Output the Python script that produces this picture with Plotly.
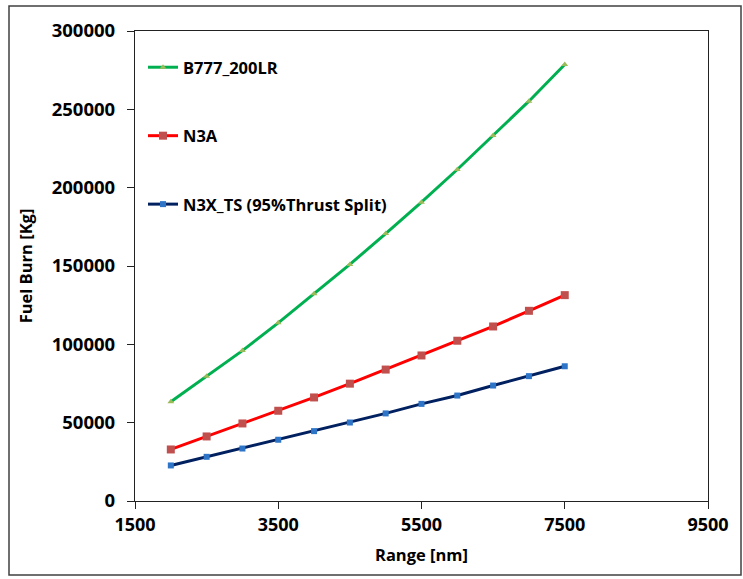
import plotly.graph_objects as go

range_nm = [2000, 2500, 3000, 3500, 4000, 4500, 5000, 5500, 6000, 6500, 7000, 7500]
b777 = [63300, 79700, 96000, 113700, 132300, 151000, 170700, 190700, 211600, 233300, 255200, 278600]
n3a = [32900, 41200, 49500, 57600, 66100, 74900, 83900, 92900, 102300, 111400, 121400, 131400]
n3x = [22700, 28200, 33500, 39100, 44600, 50100, 55900, 62000, 67300, 73700, 79700, 86000]

x_ticks = [1500, 3500, 5500, 7500, 9500]
y_ticks = [0, 50000, 100000, 150000, 200000, 250000, 300000]

FONT = "Open Sans"

fig = go.Figure()
fig.add_trace(go.Scatter(
    x=range_nm, y=b777, name="B777_200LR", mode="lines+markers", legendgroup="a",
    line=dict(color="#00B050", width=3),
    marker=dict(symbol="triangle-up", size=6, color="#9BBB59")))
fig.add_trace(go.Scatter(
    x=range_nm, y=n3a, name="N3A", mode="lines+markers", legendgroup="b",
    line=dict(color="#FF0000", width=3),
    marker=dict(symbol="square", size=8, color="#C0504D")))
fig.add_trace(go.Scatter(
    x=range_nm, y=n3x, name="N3X_TS (95%Thrust Split)", mode="lines+markers", legendgroup="c",
    line=dict(color="#002060", width=3),
    marker=dict(symbol="square", size=6, color="#2E75C8")))

W, H = 743, 579
L, R, T, B = 135, 35, 31, 78
pw, ph = W - L - R, H - T - B

def px_x(p):
    return (p - L) / pw

def px_y(p):
    return (H - B - p) / ph

fig.add_shape(type="rect", xref="paper", yref="paper",
              x0=px_x(9), x1=px_x(741), y0=px_y(575), y1=px_y(6),
              line=dict(color="#404040", width=1.5), fillcolor="rgba(0,0,0,0)", layer="below")

fig.update_layout(
    width=W, height=H,
    margin=dict(l=L, r=R, t=T, b=B),
    paper_bgcolor="white", plot_bgcolor="white",
    font=dict(family=FONT, color="black", size=16, weight="bold"),
    showlegend=True,
    legend=dict(x=px_x(143), y=px_y(50), xanchor="left", yanchor="top",
                font=dict(family=FONT, size=16.5, color="black", weight="bold"),
                bgcolor="rgba(0,0,0,0)", tracegroupgap=44, itemwidth=30),
    xaxis=dict(range=[1500, 9500], tickvals=x_ticks, ticktext=[str(v) for v in x_ticks],
               showgrid=False, zeroline=False, showline=True, linecolor="#222", linewidth=1.3,
               mirror=True, ticks="outside", ticklen=7, tickcolor="#222",
               tickfont=dict(family=FONT, size=18, color="black", weight="bold"),
               title=dict(text="Range [nm]", standoff=14,
                          font=dict(family=FONT, size=16.5, color="black", weight="bold"))),
    yaxis=dict(range=[0, 300000], tickvals=y_ticks, ticktext=[str(v) for v in y_ticks],
               showgrid=False, zeroline=False, showline=True, linecolor="#222", linewidth=1.3,
               mirror=True, ticks="outside", ticklen=7, tickcolor="#222", ticklabelstandoff=8,
               tickfont=dict(family=FONT, size=18.5, color="black", weight="bold"),
               title=dict(text="Fuel Burn [Kg]", standoff=14,
                          font=dict(family=FONT, size=16.5, color="black", weight="bold"))),
)

fig.write_html("out.html")
